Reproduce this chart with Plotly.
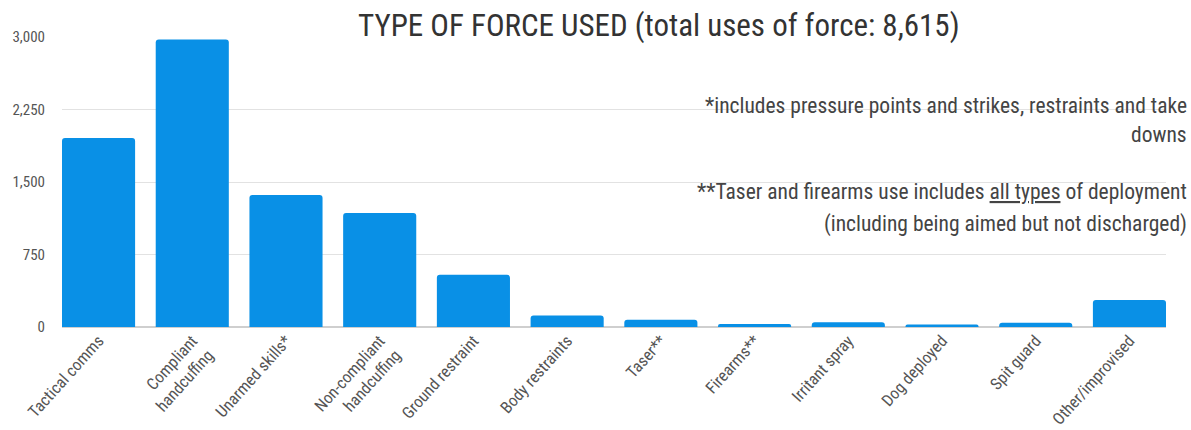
import plotly.graph_objects as go

categories = ["Tactical comms", "Compliant<br>handcuffing", "Unarmed skills*",
              "Non-compliant<br>handcuffing", "Ground restraint", "Body restraints",
              "Taser**", "Firearms**", "Irritant spray", "Dog deployed",
              "Spit guard", "Other/improvised"]
uses = [1955, 2975, 1365, 1180, 540, 120, 75, 30, 50, 25, 45, 280]
y_ticks = [0, 750, 1500, 2250, 3000]
y_tick_labels = ["0", "750", "1,500", "2,250", "3,000"]

title_text = "TYPE OF FORCE USED (total uses of force: 8,615)"
note_lines = ["*includes pressure points and strikes, restraints and take",
              "downs",
              "**Taser and firearms use includes <u>all types</u> of deployment",
              "(including being aimed but not discharged)"]

FONT = "Roboto Condensed, Liberation Sans Narrow, DejaVu Sans Condensed, Roboto, sans-serif"
BLUE = "#0990e6"

fig = go.Figure(go.Bar(
    x=list(range(len(categories))), y=uses,
    marker=dict(color=BLUE, cornerradius=3, line=dict(width=0)),
    width=0.78,
))

fig.update_layout(
    width=1191, height=430,
    margin=dict(l=62, r=25, t=37, b=103),
    paper_bgcolor="white", plot_bgcolor="white",
    showlegend=False,
    font=dict(family=FONT, color="#555555"),
    xaxis=dict(
        tickmode="array", tickvals=list(range(len(categories))), ticktext=categories,
        range=[-0.39, len(categories) - 1 + 0.39],
        tickangle=-48, tickfont=dict(size=16.5, color="#555555"),
        showgrid=False, zeroline=False, showline=False, ticks="",
        automargin=False,
    ),
    yaxis=dict(
        range=[0, 3000], tickmode="array", tickvals=y_ticks, ticktext=y_tick_labels,
        tickfont=dict(size=15, color="#555555"),
        showgrid=True, gridcolor="#e2e2e2", gridwidth=1,
        zeroline=True, zerolinecolor="#cfcfcf", zerolinewidth=1.5,
        showline=False, ticks="", ticklabelstandoff=16, automargin=False,
    ),
)

# white masks over gridlines behind title and notes
fig.add_shape(type="rect", xref="paper", yref="paper", x0=0.211, x1=1.03, y0=0.98, y1=1.05,
              fillcolor="white", line=dict(width=0), layer="between")
fig.add_shape(type="rect", xref="paper", yref="paper", x0=0.498, x1=1.03, y0=0.30, y1=0.95,
              fillcolor="white", line=dict(width=0), layer="between")

fig.add_annotation(text=title_text, xref="paper", yref="paper", x=0.541, y=1.0,
                   xanchor="center", yanchor="bottom", yshift=-9, showarrow=False,
                   font=dict(family=FONT, size=31, color="#333333"))

note_y_px = [105, 134, 191, 224]
for line, ypx in zip(note_lines, note_y_px):
    fig.add_annotation(text=line, xref="paper", yref="paper", x=1.0, xshift=23,
                       y=(327 - ypx) / 290, xanchor="right", yanchor="middle",
                       showarrow=False, font=dict(family=FONT, size=21.5, color="#444444"))

fig.write_html("out.html", post_script="document.body.style.margin='0';",
               config={"displayModeBar": False})
